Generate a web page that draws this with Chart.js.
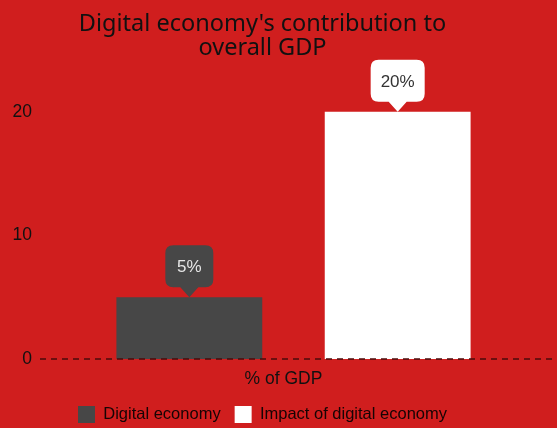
<!DOCTYPE html>
<html>
<head>
<meta charset="utf-8">
<script src="https://cdn.jsdelivr.net/npm/chart.js@4/dist/chart.umd.min.js"></script>
<style>
  html, body { margin: 0; padding: 0; background: #d01e1e; }
  #wrap { width: 557px; height: 428px; }
</style>
</head>
<body>
<div id="wrap"><canvas id="gdp"></canvas></div>
<script>
const categories = ["% of GDP"]
const seriesNames = ["Digital economy", "Impact of digital economy"]
const digitalEconomy = [5]
const impactOfDigital = [20]
const yTicks = [0, 10, 20]

const barColors = ["#474747", "#ffffff"]
const calloutText = ["#e6e6e6", "#333333"]

// red page background behind everything
const background = {
  id: "background",
  beforeDraw(chart) {
    const ctx = chart.ctx
    ctx.save()
    ctx.fillStyle = "#d01e1e"
    ctx.fillRect(0, 0, chart.width, chart.height)
    ctx.restore()
  }
}

// dashed baseline at zero, from just past the tick labels to the right edge
const zeroLine = {
  id: "zeroLine",
  afterDatasetsDraw(chart) {
    const ctx = chart.ctx
    const yScale = chart.scales.y
    const y = yScale.getPixelForValue(0)
    ctx.save()
    ctx.strokeStyle = "#4a0b0b"
    ctx.lineWidth = 1.5
    ctx.setLineDash([6, 5])
    ctx.beginPath()
    ctx.moveTo(yScale.right - yScale.options.ticks.padding, y)
    ctx.lineTo(chart.width, y)
    ctx.stroke()
    ctx.restore()
  }
}

// speech-bubble value label above each bar
const callouts = {
  id: "callouts",
  afterDatasetsDraw(chart) {
    const ctx = chart.ctx
    chart.data.datasets.forEach((ds, i) => {
      const meta = chart.getDatasetMeta(i)
      meta.data.forEach((bar, j) => {
        const text = ds.data[j] + "%"
        ctx.save()
        ctx.font = "17px 'Liberation Sans', Arial, sans-serif"
        const w = Math.max(48, ctx.measureText(text).width + 20)
        const h = 42
        const tip = 10
        const x = bar.x - w / 2
        const y = bar.y - tip - h
        const r = 8
        ctx.fillStyle = ds.backgroundColor
        ctx.beginPath()
        ctx.moveTo(x + r, y)
        ctx.lineTo(x + w - r, y)
        ctx.quadraticCurveTo(x + w, y, x + w, y + r)
        ctx.lineTo(x + w, y + h - r)
        ctx.quadraticCurveTo(x + w, y + h, x + w - r, y + h)
        ctx.lineTo(bar.x + 9, y + h)
        ctx.lineTo(bar.x, bar.y)
        ctx.lineTo(bar.x - 9, y + h)
        ctx.lineTo(x + r, y + h)
        ctx.quadraticCurveTo(x, y + h, x, y + h - r)
        ctx.lineTo(x, y + r)
        ctx.quadraticCurveTo(x, y, x + r, y)
        ctx.closePath()
        ctx.fill()
        ctx.fillStyle = calloutText[i]
        ctx.textAlign = "center"
        ctx.textBaseline = "middle"
        ctx.fillText(text, bar.x, y + h / 2 + 1)
        ctx.restore()
      })
    })
  }
}

new Chart(document.getElementById("gdp"), {
  type: "bar",
  data: {
    labels: categories,
    datasets: [
      { label: seriesNames[0], data: digitalEconomy, backgroundColor: barColors[0] },
      { label: seriesNames[1], data: impactOfDigital, backgroundColor: barColors[1] }
    ]
  },
  options: {
    responsive: true,
    maintainAspectRatio: false,
    animation: false,
    layout: { padding: { left: 0, right: 32, top: 0, bottom: -5 } },
    datasets: { bar: { barPercentage: 0.7, categoryPercentage: 0.9 } },
    scales: {
      x: {
        grid: { display: false },
        border: { display: false },
        ticks: {
          color: "#111",
          font: { family: "'Liberation Sans', Arial, sans-serif", size: 17.5 },
          padding: 2,
          labelOffset: -10
        }
      },
      y: {
        min: 0,
        max: 24,
        grid: { display: false },
        border: { display: false },
        afterFit(scale) {
          scale.width = 62
        },
        afterBuildTicks(scale) {
          scale.ticks = yTicks.map(v => ({ value: v }))
        },
        ticks: { color: "#111", font: { family: "'Liberation Sans', Arial, sans-serif", size: 17.5 }, padding: 22 }
      }
    },
    plugins: {
      title: {
        display: true,
        text: ["Digital economy's contribution to", "overall GDP"],
        color: "#111",
        font: { family: "'Noto Sans', sans-serif", size: 23.5, weight: "normal", lineHeight: 1.02 },
        padding: { top: 12, bottom: 2.5 }
      },
      legend: {
        position: "bottom",
        labels: {
          color: "#160404",
          boxWidth: 17,
          boxHeight: 17,
          padding: 14,
          font: { family: "'Liberation Sans', Arial, sans-serif", size: 16.5 }
        }
      },
      tooltip: { enabled: false }
    }
  },
  plugins: [background, zeroLine, callouts]
})
</script>
</body>
</html>
